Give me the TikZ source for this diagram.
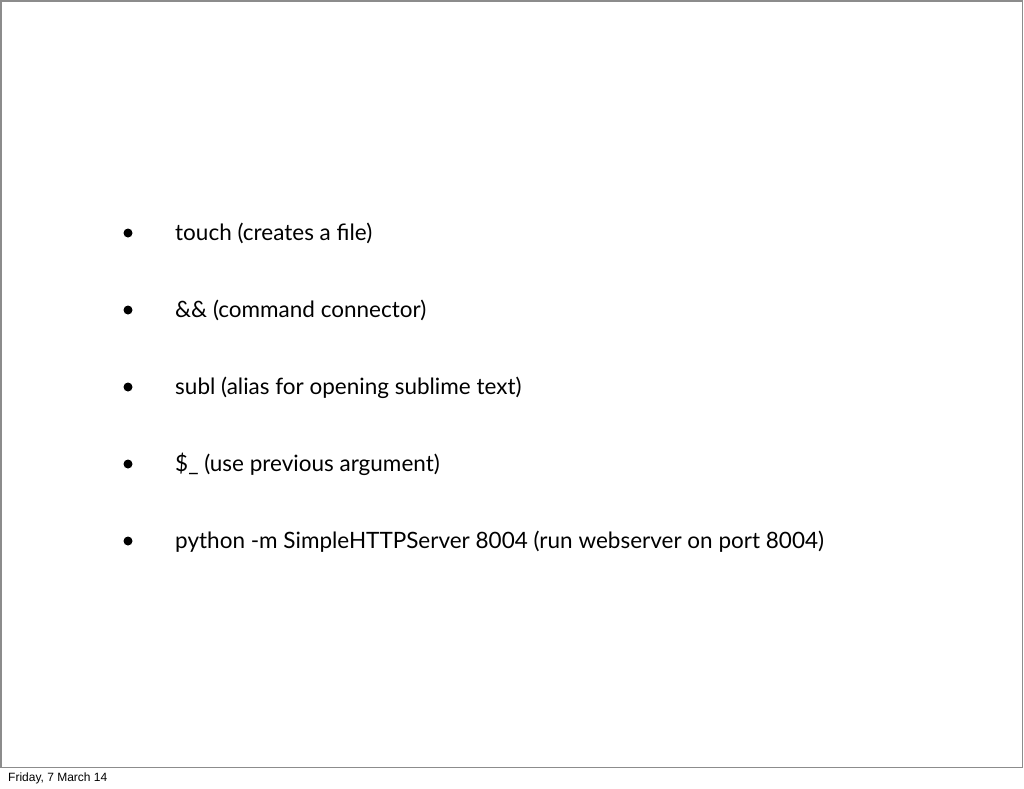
\documentclass[tikz,border=0pt]{standalone}
\usepackage{fontspec}
\setmainfont{Lato}
\newfontfamily\footfont{Liberation Sans}
\usetikzlibrary{positioning}

\begin{document}
\begin{tikzpicture}[x=1pt,y=-1pt,
    item/.style={anchor=base west, inner sep=0pt, font=\fontsize{22.5}{27}\selectfont},
    dot/.style={circle, fill=black, draw=none, inner sep=0pt, minimum size=9pt}]
        % page and slide frame
        \useasboundingbox (0,0) rectangle (1024,788);
        \fill[white] (0,0) rectangle (1024,788);
        \draw[gray!90, line width=1.5pt] (0.75,0.75) rectangle (1022.5,767.5);

        % bullet items
        \node[item] (touch) at (175,240) {touch (creates a file)};
        \node[item] (and) at (175,317) {\&\& (command connector)};
        \node[item] (subl) at (175,394) {subl (alias for opening sublime text)};
        \node[item] (last) at (175,471) {\$\_ (use previous argument)};
        \node[item] (py) at (175,548) {python -m SimpleHTTPServer 8004 (run webserver on port 8004)};

        % the bullets
        \node[dot] (b1) at (128,233) {};
        \node[dot] (b2) at (128,310) {};
        \node[dot] (b3) at (128,387) {};
        \node[dot] (b4) at (128,464) {};
        \node[dot] (b5) at (128,541) {};

        % footer
        \node[anchor=base west, inner sep=0pt, font=\footfont\fontsize{12}{14}\selectfont] (date) at (8,781) {Friday, 7 March 14};
    \end{tikzpicture}
\end{document}
